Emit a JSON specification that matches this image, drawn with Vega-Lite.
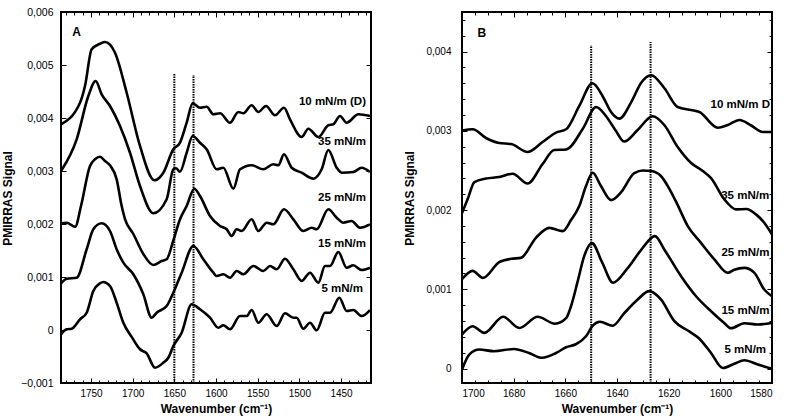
{
  "$schema": "https://vega.github.io/schema/vega-lite/v6.json",
  "background": "white",
  "padding": {"left": 0, "top": 6, "right": 5, "bottom": 5},
  "spacing": 29,
  "config": {
    "view": {"stroke": "black", "strokeWidth": 2},
    "font": "Liberation Sans",
    "axis": {"domain": false, "grid": false, "tickColor": "black", "tickWidth": 1, "labelColor": "black", "titleColor": "black", "labelFont": "Liberation Sans", "titleFont": "Liberation Sans", "labelFontSize": 10, "titleFontSize": 12, "titleFontWeight": "bold"}
  },
  "datasets": {
    "spectraA": [
      {"series": "10D", "wavenumber": 1786, "signal": 0.003881},
      {"series": "10D", "wavenumber": 1763.2, "signal": 0.004289},
      {"series": "10D", "wavenumber": 1757.2, "signal": 0.004604},
      {"series": "10D", "wavenumber": 1749.2, "signal": 0.005296},
      {"series": "10D", "wavenumber": 1739.2, "signal": 0.005400},
      {"series": "10D", "wavenumber": 1733.2, "signal": 0.005434},
      {"series": "10D", "wavenumber": 1721.2, "signal": 0.005232},
      {"series": "10D", "wavenumber": 1707.2, "signal": 0.004477},
      {"series": "10D", "wavenumber": 1691.2, "signal": 0.003472},
      {"series": "10D", "wavenumber": 1674.0, "signal": 0.002825},
      {"series": "10D", "wavenumber": 1663.2, "signal": 0.002968},
      {"series": "10D", "wavenumber": 1651.2, "signal": 0.003409},
      {"series": "10D", "wavenumber": 1643.2, "signal": 0.003534},
      {"series": "10D", "wavenumber": 1635.2, "signal": 0.003911},
      {"series": "10D", "wavenumber": 1628.0, "signal": 0.004277},
      {"series": "10D", "wavenumber": 1619.2, "signal": 0.004194},
      {"series": "10D", "wavenumber": 1611.2, "signal": 0.004213},
      {"series": "10D", "wavenumber": 1603.2, "signal": 0.004070},
      {"series": "10D", "wavenumber": 1595.2, "signal": 0.004089},
      {"series": "10D", "wavenumber": 1583.2, "signal": 0.003911},
      {"series": "10D", "wavenumber": 1573.2, "signal": 0.004113},
      {"series": "10D", "wavenumber": 1567.2, "signal": 0.004089},
      {"series": "10D", "wavenumber": 1557.2, "signal": 0.004240},
      {"series": "10D", "wavenumber": 1549.2, "signal": 0.004113},
      {"series": "10D", "wavenumber": 1540.0, "signal": 0.004226},
      {"series": "10D", "wavenumber": 1529.2, "signal": 0.004051},
      {"series": "10D", "wavenumber": 1518.4, "signal": 0.004194},
      {"series": "10D", "wavenumber": 1511.2, "signal": 0.003975},
      {"series": "10D", "wavenumber": 1497.2, "signal": 0.003642},
      {"series": "10D", "wavenumber": 1489.2, "signal": 0.003798},
      {"series": "10D", "wavenumber": 1477.2, "signal": 0.003642},
      {"series": "10D", "wavenumber": 1465.2, "signal": 0.003862},
      {"series": "10D", "wavenumber": 1459.2, "signal": 0.003881},
      {"series": "10D", "wavenumber": 1451.2, "signal": 0.004038},
      {"series": "10D", "wavenumber": 1443.2, "signal": 0.003911},
      {"series": "10D", "wavenumber": 1429.2, "signal": 0.004070},
      {"series": "10D", "wavenumber": 1415.2, "signal": 0.004038},

      {"series": "35", "wavenumber": 1786, "signal": 0.003000},
      {"series": "35", "wavenumber": 1767.2, "signal": 0.003598},
      {"series": "35", "wavenumber": 1753.2, "signal": 0.004415},
      {"series": "35", "wavenumber": 1744.4, "signal": 0.004698},
      {"series": "35", "wavenumber": 1737.2, "signal": 0.004447},
      {"series": "35", "wavenumber": 1727.2, "signal": 0.004226},
      {"series": "35", "wavenumber": 1715.2, "signal": 0.003849},
      {"series": "35", "wavenumber": 1703.2, "signal": 0.003345},
      {"series": "35", "wavenumber": 1691.2, "signal": 0.002717},
      {"series": "35", "wavenumber": 1675.2, "signal": 0.002202},
      {"series": "35", "wavenumber": 1659.2, "signal": 0.002466},
      {"series": "35", "wavenumber": 1651.2, "signal": 0.003032},
      {"series": "35", "wavenumber": 1648.0, "signal": 0.003051},
      {"series": "35", "wavenumber": 1643.2, "signal": 0.002987},
      {"series": "35", "wavenumber": 1635.2, "signal": 0.003345},
      {"series": "35", "wavenumber": 1628.0, "signal": 0.003660},
      {"series": "35", "wavenumber": 1619.2, "signal": 0.003534},
      {"series": "35", "wavenumber": 1611.2, "signal": 0.003409},
      {"series": "35", "wavenumber": 1599.2, "signal": 0.003032},
      {"series": "35", "wavenumber": 1591.2, "signal": 0.003062},
      {"series": "35", "wavenumber": 1579.2, "signal": 0.002666},
      {"series": "35", "wavenumber": 1571.2, "signal": 0.003032},
      {"series": "35", "wavenumber": 1557.2, "signal": 0.003108},
      {"series": "35", "wavenumber": 1543.2, "signal": 0.003032},
      {"series": "35", "wavenumber": 1531.2, "signal": 0.003126},
      {"series": "35", "wavenumber": 1525.2, "signal": 0.003108},
      {"series": "35", "wavenumber": 1518.4, "signal": 0.003315},
      {"series": "35", "wavenumber": 1509.2, "signal": 0.003062},
      {"series": "35", "wavenumber": 1497.2, "signal": 0.002968},
      {"series": "35", "wavenumber": 1483.2, "signal": 0.002855},
      {"series": "35", "wavenumber": 1473.2, "signal": 0.003032},
      {"series": "35", "wavenumber": 1465.2, "signal": 0.003396},
      {"series": "35", "wavenumber": 1455.2, "signal": 0.003062},
      {"series": "35", "wavenumber": 1449.2, "signal": 0.002968},
      {"series": "35", "wavenumber": 1435.2, "signal": 0.002981},
      {"series": "35", "wavenumber": 1425.2, "signal": 0.003062},
      {"series": "35", "wavenumber": 1415.2, "signal": 0.002981},

      {"series": "25", "wavenumber": 1786, "signal": 0.002013},
      {"series": "25", "wavenumber": 1779.2, "signal": 0.002025},
      {"series": "25", "wavenumber": 1769.0, "signal": 0.001949},
      {"series": "25", "wavenumber": 1762.0, "signal": 0.002340},
      {"series": "25", "wavenumber": 1751.2, "signal": 0.003094},
      {"series": "25", "wavenumber": 1745.2, "signal": 0.003221},
      {"series": "25", "wavenumber": 1739.2, "signal": 0.003270},
      {"series": "25", "wavenumber": 1733.2, "signal": 0.003189},
      {"series": "25", "wavenumber": 1727.2, "signal": 0.003108},
      {"series": "25", "wavenumber": 1719.2, "signal": 0.002843},
      {"series": "25", "wavenumber": 1713.2, "signal": 0.002340},
      {"series": "25", "wavenumber": 1709.2, "signal": 0.002094},
      {"series": "25", "wavenumber": 1699.2, "signal": 0.001811},
      {"series": "25", "wavenumber": 1687.2, "signal": 0.001434},
      {"series": "25", "wavenumber": 1675.2, "signal": 0.001226},
      {"series": "25", "wavenumber": 1665.2, "signal": 0.001302},
      {"series": "25", "wavenumber": 1659.2, "signal": 0.001334},
      {"series": "25", "wavenumber": 1651.2, "signal": 0.001690},
      {"series": "25", "wavenumber": 1643.2, "signal": 0.002090},
      {"series": "25", "wavenumber": 1635.2, "signal": 0.002340},
      {"series": "25", "wavenumber": 1626.0, "signal": 0.002666},
      {"series": "25", "wavenumber": 1619.2, "signal": 0.002528},
      {"series": "25", "wavenumber": 1607.2, "signal": 0.002151},
      {"series": "25", "wavenumber": 1595.2, "signal": 0.001962},
      {"series": "25", "wavenumber": 1587.2, "signal": 0.001900},
      {"series": "25", "wavenumber": 1581.2, "signal": 0.001774},
      {"series": "25", "wavenumber": 1575.2, "signal": 0.001900},
      {"series": "25", "wavenumber": 1569.2, "signal": 0.001868},
      {"series": "25", "wavenumber": 1557.2, "signal": 0.002089},
      {"series": "25", "wavenumber": 1549.2, "signal": 0.001868},
      {"series": "25", "wavenumber": 1539.2, "signal": 0.002025},
      {"series": "25", "wavenumber": 1531.2, "signal": 0.001994},
      {"series": "25", "wavenumber": 1518.4, "signal": 0.002277},
      {"series": "25", "wavenumber": 1507.2, "signal": 0.002089},
      {"series": "25", "wavenumber": 1495.2, "signal": 0.001868},
      {"series": "25", "wavenumber": 1485.2, "signal": 0.001930},
      {"series": "25", "wavenumber": 1479.2, "signal": 0.001900},
      {"series": "25", "wavenumber": 1465.2, "signal": 0.002277},
      {"series": "25", "wavenumber": 1455.2, "signal": 0.002119},
      {"series": "25", "wavenumber": 1447.2, "signal": 0.002025},
      {"series": "25", "wavenumber": 1437.2, "signal": 0.002057},
      {"series": "25", "wavenumber": 1427.2, "signal": 0.001930},
      {"series": "25", "wavenumber": 1415.2, "signal": 0.001994},

      {"series": "15", "wavenumber": 1786, "signal": 0.000881},
      {"series": "15", "wavenumber": 1779.2, "signal": 0.000968},
      {"series": "15", "wavenumber": 1767.2, "signal": 0.000987},
      {"series": "15", "wavenumber": 1755.2, "signal": 0.001523},
      {"series": "15", "wavenumber": 1747.2, "signal": 0.001900},
      {"series": "15", "wavenumber": 1737.2, "signal": 0.002013},
      {"series": "15", "wavenumber": 1727.2, "signal": 0.001868},
      {"series": "15", "wavenumber": 1719.2, "signal": 0.001523},
      {"series": "15", "wavenumber": 1711.2, "signal": 0.001270},
      {"series": "15", "wavenumber": 1699.2, "signal": 0.001051},
      {"series": "15", "wavenumber": 1687.2, "signal": 0.000674},
      {"series": "15", "wavenumber": 1677.2, "signal": 0.000232},
      {"series": "15", "wavenumber": 1671.2, "signal": 0.000326},
      {"series": "15", "wavenumber": 1659.2, "signal": 0.000453},
      {"series": "15", "wavenumber": 1651.2, "signal": 0.000704},
      {"series": "15", "wavenumber": 1641.2, "signal": 0.001081},
      {"series": "15", "wavenumber": 1627.2, "signal": 0.001585},
      {"series": "15", "wavenumber": 1615.2, "signal": 0.001334},
      {"series": "15", "wavenumber": 1603.2, "signal": 0.001081},
      {"series": "15", "wavenumber": 1599.2, "signal": 0.001019},
      {"series": "15", "wavenumber": 1591.2, "signal": 0.001051},
      {"series": "15", "wavenumber": 1583.2, "signal": 0.000987},
      {"series": "15", "wavenumber": 1575.2, "signal": 0.001113},
      {"series": "15", "wavenumber": 1567.2, "signal": 0.001051},
      {"series": "15", "wavenumber": 1555.2, "signal": 0.001208},
      {"series": "15", "wavenumber": 1543.2, "signal": 0.001113},
      {"series": "15", "wavenumber": 1535.2, "signal": 0.001208},
      {"series": "15", "wavenumber": 1527.2, "signal": 0.001145},
      {"series": "15", "wavenumber": 1517.2, "signal": 0.001345},
      {"series": "15", "wavenumber": 1507.2, "signal": 0.001145},
      {"series": "15", "wavenumber": 1497.2, "signal": 0.000925},
      {"series": "15", "wavenumber": 1487.2, "signal": 0.001081},
      {"series": "15", "wavenumber": 1477.2, "signal": 0.000894},
      {"series": "15", "wavenumber": 1469.2, "signal": 0.001208},
      {"series": "15", "wavenumber": 1463.2, "signal": 0.001208},
      {"series": "15", "wavenumber": 1453.2, "signal": 0.001472},
      {"series": "15", "wavenumber": 1443.2, "signal": 0.001175},
      {"series": "15", "wavenumber": 1435.2, "signal": 0.001221},
      {"series": "15", "wavenumber": 1425.2, "signal": 0.001132},
      {"series": "15", "wavenumber": 1415.2, "signal": 0.001175},

      {"series": "5", "wavenumber": 1786, "signal": -0.000081},
      {"series": "5", "wavenumber": 1779.2, "signal": 0.000013},
      {"series": "5", "wavenumber": 1773.2, "signal": 0.000025},
      {"series": "5", "wavenumber": 1763.2, "signal": 0.000202},
      {"series": "5", "wavenumber": 1755.2, "signal": 0.000326},
      {"series": "5", "wavenumber": 1747.2, "signal": 0.000736},
      {"series": "5", "wavenumber": 1739.2, "signal": 0.000881},
      {"series": "5", "wavenumber": 1735.2, "signal": 0.000906},
      {"series": "5", "wavenumber": 1727.2, "signal": 0.000830},
      {"series": "5", "wavenumber": 1719.2, "signal": 0.000515},
      {"series": "5", "wavenumber": 1711.2, "signal": 0.000138},
      {"series": "5", "wavenumber": 1701.2, "signal": -0.000130},
      {"series": "5", "wavenumber": 1691.2, "signal": -0.000364},
      {"series": "5", "wavenumber": 1683.2, "signal": -0.000440},
      {"series": "5", "wavenumber": 1673.2, "signal": -0.000711},
      {"series": "5", "wavenumber": 1663.2, "signal": -0.000617},
      {"series": "5", "wavenumber": 1657.2, "signal": -0.000523},
      {"series": "5", "wavenumber": 1651.2, "signal": -0.000302},
      {"series": "5", "wavenumber": 1641.2, "signal": -0.000051},
      {"series": "5", "wavenumber": 1629.2, "signal": 0.000485},
      {"series": "5", "wavenumber": 1619.2, "signal": 0.000391},
      {"series": "5", "wavenumber": 1607.2, "signal": 0.000232},
      {"series": "5", "wavenumber": 1597.2, "signal": 0.000043},
      {"series": "5", "wavenumber": 1591.2, "signal": 0.000089},
      {"series": "5", "wavenumber": 1583.2, "signal": 0.000013},
      {"series": "5", "wavenumber": 1571.2, "signal": 0.000264},
      {"series": "5", "wavenumber": 1563.2, "signal": 0.000264},
      {"series": "5", "wavenumber": 1557.2, "signal": 0.000377},
      {"series": "5", "wavenumber": 1549.2, "signal": 0.000138},
      {"series": "5", "wavenumber": 1539.2, "signal": 0.000296},
      {"series": "5", "wavenumber": 1527.2, "signal": 0.000075},
      {"series": "5", "wavenumber": 1517.2, "signal": 0.000315},
      {"series": "5", "wavenumber": 1507.2, "signal": 0.000232},
      {"series": "5", "wavenumber": 1503.2, "signal": 0.000232},
      {"series": "5", "wavenumber": 1495.2, "signal": 0.000025},
      {"series": "5", "wavenumber": 1487.2, "signal": 0.000138},
      {"series": "5", "wavenumber": 1479.2, "signal": -0.000006},
      {"series": "5", "wavenumber": 1469.2, "signal": 0.000326},
      {"series": "5", "wavenumber": 1463.2, "signal": 0.000326},
      {"series": "5", "wavenumber": 1452.0, "signal": 0.000609},
      {"series": "5", "wavenumber": 1443.2, "signal": 0.000358},
      {"series": "5", "wavenumber": 1435.2, "signal": 0.000377},
      {"series": "5", "wavenumber": 1425.2, "signal": 0.000264},
      {"series": "5", "wavenumber": 1415.2, "signal": 0.000377}
    ],
    "spectraB": [
      {"series": "10D", "wavenumber": 1700, "signal": 0.003004},
      {"series": "10D", "wavenumber": 1695.9, "signal": 0.003020},
      {"series": "10D", "wavenumber": 1690.7, "signal": 0.002910},
      {"series": "10D", "wavenumber": 1685.6, "signal": 0.002846},
      {"series": "10D", "wavenumber": 1681.0, "signal": 0.002834},
      {"series": "10D", "wavenumber": 1674.6, "signal": 0.002733},
      {"series": "10D", "wavenumber": 1668.8, "signal": 0.002859},
      {"series": "10D", "wavenumber": 1663.6, "signal": 0.002977},
      {"series": "10D", "wavenumber": 1659.7, "signal": 0.003020},
      {"series": "10D", "wavenumber": 1654.6, "signal": 0.003314},
      {"series": "10D", "wavenumber": 1649.5, "signal": 0.003601},
      {"series": "10D", "wavenumber": 1645.4, "signal": 0.003428},
      {"series": "10D", "wavenumber": 1642.3, "signal": 0.003238},
      {"series": "10D", "wavenumber": 1639.1, "signal": 0.003154},
      {"series": "10D", "wavenumber": 1634.6, "signal": 0.003356},
      {"series": "10D", "wavenumber": 1630.7, "signal": 0.003605},
      {"series": "10D", "wavenumber": 1626.8, "signal": 0.003702},
      {"series": "10D", "wavenumber": 1621.7, "signal": 0.003541},
      {"series": "10D", "wavenumber": 1616.5, "signal": 0.003301},
      {"series": "10D", "wavenumber": 1611.3, "signal": 0.003263},
      {"series": "10D", "wavenumber": 1608.1, "signal": 0.003238},
      {"series": "10D", "wavenumber": 1601.0, "signal": 0.003040},
      {"series": "10D", "wavenumber": 1597.1, "signal": 0.003074},
      {"series": "10D", "wavenumber": 1592.6, "signal": 0.003137},
      {"series": "10D", "wavenumber": 1588.1, "signal": 0.003068},
      {"series": "10D", "wavenumber": 1583.6, "signal": 0.002985},
      {"series": "10D", "wavenumber": 1580, "signal": 0.002985},

      {"series": "35", "wavenumber": 1700, "signal": 0.001962},
      {"series": "35", "wavenumber": 1697.8, "signal": 0.002139},
      {"series": "35", "wavenumber": 1695.2, "signal": 0.002354},
      {"series": "35", "wavenumber": 1690.7, "signal": 0.002398},
      {"series": "35", "wavenumber": 1685.6, "signal": 0.002417},
      {"series": "35", "wavenumber": 1680.4, "signal": 0.002459},
      {"series": "35", "wavenumber": 1674.6, "signal": 0.002335},
      {"series": "35", "wavenumber": 1668.8, "signal": 0.002581},
      {"series": "35", "wavenumber": 1664.3, "signal": 0.002758},
      {"series": "35", "wavenumber": 1659.7, "signal": 0.002764},
      {"series": "35", "wavenumber": 1653.3, "signal": 0.003023},
      {"series": "35", "wavenumber": 1648.1, "signal": 0.003301},
      {"series": "35", "wavenumber": 1644.3, "signal": 0.003188},
      {"series": "35", "wavenumber": 1640.4, "signal": 0.002998},
      {"series": "35", "wavenumber": 1637.2, "signal": 0.002865},
      {"series": "35", "wavenumber": 1632.0, "signal": 0.003011},
      {"series": "35", "wavenumber": 1626.2, "signal": 0.003184},
      {"series": "35", "wavenumber": 1621.7, "signal": 0.003074},
      {"series": "35", "wavenumber": 1616.5, "signal": 0.002796},
      {"series": "35", "wavenumber": 1611.3, "signal": 0.002594},
      {"series": "35", "wavenumber": 1606.8, "signal": 0.002493},
      {"series": "35", "wavenumber": 1603.6, "signal": 0.002404},
      {"series": "35", "wavenumber": 1598.5, "signal": 0.002139},
      {"series": "35", "wavenumber": 1593.9, "signal": 0.002009},
      {"series": "35", "wavenumber": 1590.0, "signal": 0.002013},
      {"series": "35", "wavenumber": 1586.2, "signal": 0.001946},
      {"series": "35", "wavenumber": 1583.0, "signal": 0.001840},
      {"series": "35", "wavenumber": 1580, "signal": 0.001693},

      {"series": "25", "wavenumber": 1700, "signal": 0.001128},
      {"series": "25", "wavenumber": 1695.9, "signal": 0.001233},
      {"series": "25", "wavenumber": 1691.9, "signal": 0.001145},
      {"series": "25", "wavenumber": 1685.6, "signal": 0.001343},
      {"series": "25", "wavenumber": 1681.0, "signal": 0.001385},
      {"series": "25", "wavenumber": 1677.2, "signal": 0.001397},
      {"series": "25", "wavenumber": 1671.4, "signal": 0.001650},
      {"series": "25", "wavenumber": 1666.2, "signal": 0.001776},
      {"series": "25", "wavenumber": 1661.0, "signal": 0.001735},
      {"series": "25", "wavenumber": 1657.8, "signal": 0.001874},
      {"series": "25", "wavenumber": 1654.6, "signal": 0.002051},
      {"series": "25", "wavenumber": 1652.0, "signal": 0.002303},
      {"series": "25", "wavenumber": 1649.4, "signal": 0.002471},
      {"series": "25", "wavenumber": 1646.2, "signal": 0.002303},
      {"series": "25", "wavenumber": 1642.3, "signal": 0.002126},
      {"series": "25", "wavenumber": 1638.4, "signal": 0.002227},
      {"series": "25", "wavenumber": 1633.3, "signal": 0.002467},
      {"series": "25", "wavenumber": 1629.9, "signal": 0.002499},
      {"series": "25", "wavenumber": 1626.8, "signal": 0.002493},
      {"series": "25", "wavenumber": 1623.0, "signal": 0.002430},
      {"series": "25", "wavenumber": 1619.9, "signal": 0.002278},
      {"series": "25", "wavenumber": 1616.5, "signal": 0.002063},
      {"series": "25", "wavenumber": 1612.6, "signal": 0.001798},
      {"series": "25", "wavenumber": 1607.5, "signal": 0.001587},
      {"series": "25", "wavenumber": 1602.3, "signal": 0.001377},
      {"series": "25", "wavenumber": 1597.1, "signal": 0.001208},
      {"series": "25", "wavenumber": 1594.6, "signal": 0.001248},
      {"series": "25", "wavenumber": 1590.7, "signal": 0.001271},
      {"series": "25", "wavenumber": 1586.8, "signal": 0.001208},
      {"series": "25", "wavenumber": 1583.0, "signal": 0.000998},
      {"series": "25", "wavenumber": 1580, "signal": 0.000913},

      {"series": "15", "wavenumber": 1700, "signal": 0.000430},
      {"series": "15", "wavenumber": 1695.9, "signal": 0.000534},
      {"series": "15", "wavenumber": 1691.4, "signal": 0.000450},
      {"series": "15", "wavenumber": 1684.1, "signal": 0.000654},
      {"series": "15", "wavenumber": 1677.8, "signal": 0.000513},
      {"series": "15", "wavenumber": 1670.7, "signal": 0.000654},
      {"series": "15", "wavenumber": 1664.0, "signal": 0.000566},
      {"series": "15", "wavenumber": 1659.7, "signal": 0.000636},
      {"series": "15", "wavenumber": 1657.8, "signal": 0.000787},
      {"series": "15", "wavenumber": 1655.2, "signal": 0.001103},
      {"series": "15", "wavenumber": 1652.7, "signal": 0.001419},
      {"series": "15", "wavenumber": 1649.7, "signal": 0.001583},
      {"series": "15", "wavenumber": 1645.8, "signal": 0.001343},
      {"series": "15", "wavenumber": 1641.5, "signal": 0.001084},
      {"series": "15", "wavenumber": 1635.9, "signal": 0.001267},
      {"series": "15", "wavenumber": 1630.7, "signal": 0.001495},
      {"series": "15", "wavenumber": 1625.3, "signal": 0.001672},
      {"series": "15", "wavenumber": 1621.7, "signal": 0.001503},
      {"series": "15", "wavenumber": 1615.2, "signal": 0.001166},
      {"series": "15", "wavenumber": 1609.4, "signal": 0.000913},
      {"series": "15", "wavenumber": 1603.6, "signal": 0.000724},
      {"series": "15", "wavenumber": 1598.5, "signal": 0.000576},
      {"series": "15", "wavenumber": 1595.9, "signal": 0.000509},
      {"series": "15", "wavenumber": 1590.7, "signal": 0.000572},
      {"series": "15", "wavenumber": 1585.5, "signal": 0.000556},
      {"series": "15", "wavenumber": 1580, "signal": 0.000576},

      {"series": "5", "wavenumber": 1700, "signal": -0.000013},
      {"series": "5", "wavenumber": 1697.2, "signal": 0.000177},
      {"series": "5", "wavenumber": 1693.3, "signal": 0.000240},
      {"series": "5", "wavenumber": 1687.6, "signal": 0.000219},
      {"series": "5", "wavenumber": 1679.9, "signal": 0.000248},
      {"series": "5", "wavenumber": 1674.1, "signal": 0.000197},
      {"series": "5", "wavenumber": 1669.0, "signal": 0.000136},
      {"series": "5", "wavenumber": 1663.6, "signal": 0.000197},
      {"series": "5", "wavenumber": 1659.7, "signal": 0.000269},
      {"series": "5", "wavenumber": 1655.9, "signal": 0.000307},
      {"series": "5", "wavenumber": 1652.0, "signal": 0.000408},
      {"series": "5", "wavenumber": 1649.4, "signal": 0.000541},
      {"series": "5", "wavenumber": 1646.6, "signal": 0.000591},
      {"series": "5", "wavenumber": 1641.7, "signal": 0.000541},
      {"series": "5", "wavenumber": 1637.2, "signal": 0.000699},
      {"series": "5", "wavenumber": 1632.0, "signal": 0.000872},
      {"series": "5", "wavenumber": 1627.5, "signal": 0.000977},
      {"series": "5", "wavenumber": 1623.0, "signal": 0.000872},
      {"series": "5", "wavenumber": 1617.8, "signal": 0.000598},
      {"series": "5", "wavenumber": 1612.1, "signal": 0.000471},
      {"series": "5", "wavenumber": 1608.3, "signal": 0.000383},
      {"series": "5", "wavenumber": 1603.6, "signal": 0.000197},
      {"series": "5", "wavenumber": 1599.1, "signal": 0.000008},
      {"series": "5", "wavenumber": 1594.6, "signal": 0.000061},
      {"series": "5", "wavenumber": 1590.7, "signal": 0.000105},
      {"series": "5", "wavenumber": 1585.5, "signal": 0.000051},
      {"series": "5", "wavenumber": 1580, "signal": -0.000003}
    ],
    "markersA": [
      {"wavenumber": 1650, "from": -0.001, "to": 0.00483},
      {"wavenumber": 1627, "from": -0.001, "to": 0.00481}
    ],
    "markersB": [
      {"wavenumber": 1650, "from": -0.000182, "to": 0.00408},
      {"wavenumber": 1627, "from": -0.000182, "to": 0.00412}
    ],
    "labelsA": [
      {"wavenumber": 1420, "signal": 0.004302, "label": "10 mN/m (D)"},
      {"wavenumber": 1420, "signal": 0.003547, "label": "35 mN/m"},
      {"wavenumber": 1420, "signal": 0.002491, "label": "25 mN/m"},
      {"wavenumber": 1420, "signal": 0.001623, "label": "15 mN/m"},
      {"wavenumber": 1423.6, "signal": 0.000774, "label": "5 mN/m"}
    ],
    "labelsB": [
      {"wavenumber": 1580.8, "signal": 0.003327, "label": "10 mN/m D"},
      {"wavenumber": 1581.1, "signal": 0.002177, "label": "35 mN/m"},
      {"wavenumber": 1581.0, "signal": 0.001461, "label": "25 mN/m"},
      {"wavenumber": 1581.0, "signal": 0.000724, "label": "15 mN/m"},
      {"wavenumber": 1582.3, "signal": 0.000231, "label": "5 mN/m"}
    ],
    "letterA": [{"wavenumber": 1767.2, "signal": 0.005623, "label": "A"}],
    "letterB": [{"wavenumber": 1692.3, "signal": 0.004232, "label": "B"}]
  },
  "hconcat": [
    {
      "width": 310,
      "height": 371,
      "resolve": {"axis": {"x": "independent", "y": "independent"}},
      "layer": [
        {
          "data": {"name": "spectraA"},
          "mark": {"type": "line", "interpolate": "monotone", "stroke": "black", "strokeWidth": 2.6, "clip": true},
          "encoding": {
            "x": {"field": "wavenumber", "type": "quantitative", "scale": {"domain": [1786, 1414], "nice": false, "zero": false},
              "axis": {"orient": "bottom", "values": [1750, 1700, 1650, 1600, 1550, 1500, 1450], "format": "d", "tickSize": -5, "labelPadding": 10, "title": "Wavenumber  (cm⁻¹)", "titlePadding": 5}},
            "y": {"field": "signal", "type": "quantitative", "scale": {"domain": [-0.001, 0.006], "nice": false, "zero": false},
              "axis": {"orient": "left", "values": [-0.001, 0, 0.001, 0.002, 0.003, 0.004, 0.005, 0.006], "labelExpr": "datum.value == 0 ? '0' : replace(format(datum.value, '.3f'), '.', ',')", "labelFontSize": 10.5, "tickSize": -5, "labelPadding": 13, "title": "PMIRRAS Signal", "titleX": -54, "titleY": 186, "titleBaseline": "middle"}},
            "detail": {"field": "series"}
          }
        },
        {
          "data": {"name": "markersA"},
          "mark": {"type": "rule", "stroke": "black", "strokeWidth": 2, "strokeDash": [1.5, 1]},
          "encoding": {
            "x": {"field": "wavenumber", "type": "quantitative", "scale": {"domain": [1786, 1414], "nice": false, "zero": false},
              "axis": {"orient": "bottom", "values": [1780, 1770, 1760, 1750, 1740, 1730, 1720, 1710, 1700, 1690, 1680, 1670, 1660, 1650, 1640, 1630, 1620, 1610, 1600, 1590, 1580, 1570, 1560, 1550, 1540, 1530, 1520, 1510, 1500, 1490, 1480, 1470, 1460, 1450, 1440, 1430, 1420], "tickSize": -3, "labels": false, "title": null}},
            "y": {"field": "from", "type": "quantitative", "scale": {"domain": [-0.001, 0.006], "nice": false, "zero": false},
              "axis": {"orient": "right", "values": [-0.001, 0, 0.001, 0.002, 0.003, 0.004, 0.005, 0.006], "tickSize": -5, "labels": false, "title": null}},
            "y2": {"field": "to"}
          }
        },
        {
          "data": {"name": "labelsA"},
          "mark": {"type": "text", "align": "right", "baseline": "middle", "fontSize": 11.5, "fontWeight": "bold", "font": "Liberation Sans", "color": "black"},
          "encoding": {
            "x": {"field": "wavenumber", "type": "quantitative", "scale": {"domain": [1786, 1414], "nice": false, "zero": false},
              "axis": {"orient": "top", "values": [1750, 1700, 1650, 1600, 1550, 1500, 1450], "tickSize": -5, "labels": false, "title": null}},
            "y": {"field": "signal", "type": "quantitative", "scale": {"domain": [-0.001, 0.006], "nice": false, "zero": false}, "axis": null},
            "text": {"field": "label"}
          }
        },
        {
          "data": {"name": "letterA"},
          "mark": {"type": "text", "align": "center", "baseline": "middle", "fontSize": 12, "fontWeight": "bold", "font": "Liberation Sans", "color": "black"},
          "encoding": {
            "x": {"field": "wavenumber", "type": "quantitative", "scale": {"domain": [1786, 1414], "nice": false, "zero": false},
              "axis": {"orient": "top", "values": [1780, 1770, 1760, 1750, 1740, 1730, 1720, 1710, 1700, 1690, 1680, 1670, 1660, 1650, 1640, 1630, 1620, 1610, 1600, 1590, 1580, 1570, 1560, 1550, 1540, 1530, 1520, 1510, 1500, 1490, 1480, 1470, 1460, 1450, 1440, 1430, 1420], "tickSize": -3, "labels": false, "title": null}},
            "y": {"field": "signal", "type": "quantitative", "scale": {"domain": [-0.001, 0.006], "nice": false, "zero": false}, "axis": null},
            "text": {"field": "label"}
          }
        }
      ]
    },
    {
      "width": 310,
      "height": 371,
      "resolve": {"axis": {"x": "independent", "y": "independent"}},
      "layer": [
        {
          "data": {"name": "spectraB"},
          "mark": {"type": "line", "interpolate": "monotone", "stroke": "black", "strokeWidth": 2.6, "clip": true},
          "encoding": {
            "x": {"field": "wavenumber", "type": "quantitative", "scale": {"domain": [1700, 1580], "nice": false, "zero": false},
              "axis": {"orient": "bottom", "values": [1700, 1680, 1660, 1640, 1620, 1600, 1580], "format": "d", "tickSize": -5, "labelPadding": 10, "title": "Wavenumber  (cm⁻¹)", "titlePadding": 5}},
            "y": {"field": "signal", "type": "quantitative", "scale": {"domain": [-0.000182, 0.0045], "nice": false, "zero": false},
              "axis": {"orient": "left", "values": [0, 0.001, 0.002, 0.003, 0.004], "labelExpr": "datum.value == 0 ? '0' : replace(format(datum.value, '.3f'), '.', ',')", "tickSize": -5, "labelPadding": 16, "title": "PMIRRAS Signal", "titleX": -53, "titleY": 186, "titleBaseline": "middle"}},
            "detail": {"field": "series"}
          }
        },
        {
          "data": {"name": "markersB"},
          "mark": {"type": "rule", "stroke": "black", "strokeWidth": 2, "strokeDash": [1.5, 1]},
          "encoding": {
            "x": {"field": "wavenumber", "type": "quantitative", "scale": {"domain": [1700, 1580], "nice": false, "zero": false},
              "axis": {"orient": "bottom", "values": [1700, 1695, 1690, 1685, 1680, 1675, 1670, 1665, 1660, 1655, 1650, 1645, 1640, 1635, 1630, 1625, 1620, 1615, 1610, 1605, 1600, 1595, 1590, 1585, 1580], "tickSize": -3, "labels": false, "title": null}},
            "y": {"field": "from", "type": "quantitative", "scale": {"domain": [-0.000182, 0.0045], "nice": false, "zero": false},
              "axis": {"orient": "right", "values": [0, 0.001, 0.002, 0.003, 0.004], "tickSize": -5, "labels": false, "title": null}},
            "y2": {"field": "to"}
          }
        },
        {
          "data": {"name": "labelsB"},
          "mark": {"type": "text", "align": "right", "baseline": "middle", "fontSize": 11.5, "fontWeight": "bold", "font": "Liberation Sans", "color": "black"},
          "encoding": {
            "x": {"field": "wavenumber", "type": "quantitative", "scale": {"domain": [1700, 1580], "nice": false, "zero": false},
              "axis": {"orient": "top", "values": [1700, 1680, 1660, 1640, 1620, 1600, 1580], "tickSize": -5, "labels": false, "title": null}},
            "y": {"field": "signal", "type": "quantitative", "scale": {"domain": [-0.000182, 0.0045], "nice": false, "zero": false},
              "axis": {"orient": "left", "values": [0, 0.0002, 0.0004, 0.0006, 0.0008, 0.001, 0.0012, 0.0014, 0.0016, 0.0018, 0.002, 0.0022, 0.0024, 0.0026, 0.0028, 0.003, 0.0032, 0.0034, 0.0036, 0.0038, 0.004, 0.0042, 0.0044], "tickSize": -3, "labels": false, "title": null}},
            "text": {"field": "label"}
          }
        },
        {
          "data": {"name": "letterB"},
          "mark": {"type": "text", "align": "center", "baseline": "middle", "fontSize": 12, "fontWeight": "bold", "font": "Liberation Sans", "color": "black"},
          "encoding": {
            "x": {"field": "wavenumber", "type": "quantitative", "scale": {"domain": [1700, 1580], "nice": false, "zero": false},
              "axis": {"orient": "top", "values": [1700, 1695, 1690, 1685, 1680, 1675, 1670, 1665, 1660, 1655, 1650, 1645, 1640, 1635, 1630, 1625, 1620, 1615, 1610, 1605, 1600, 1595, 1590, 1585, 1580], "tickSize": -3, "labels": false, "title": null}},
            "y": {"field": "signal", "type": "quantitative", "scale": {"domain": [-0.000182, 0.0045], "nice": false, "zero": false},
              "axis": {"orient": "right", "values": [0, 0.0002, 0.0004, 0.0006, 0.0008, 0.001, 0.0012, 0.0014, 0.0016, 0.0018, 0.002, 0.0022, 0.0024, 0.0026, 0.0028, 0.003, 0.0032, 0.0034, 0.0036, 0.0038, 0.004, 0.0042, 0.0044], "tickSize": -3, "labels": false, "title": null}},
            "text": {"field": "label"}
          }
        }
      ]
    }
  ]
}
